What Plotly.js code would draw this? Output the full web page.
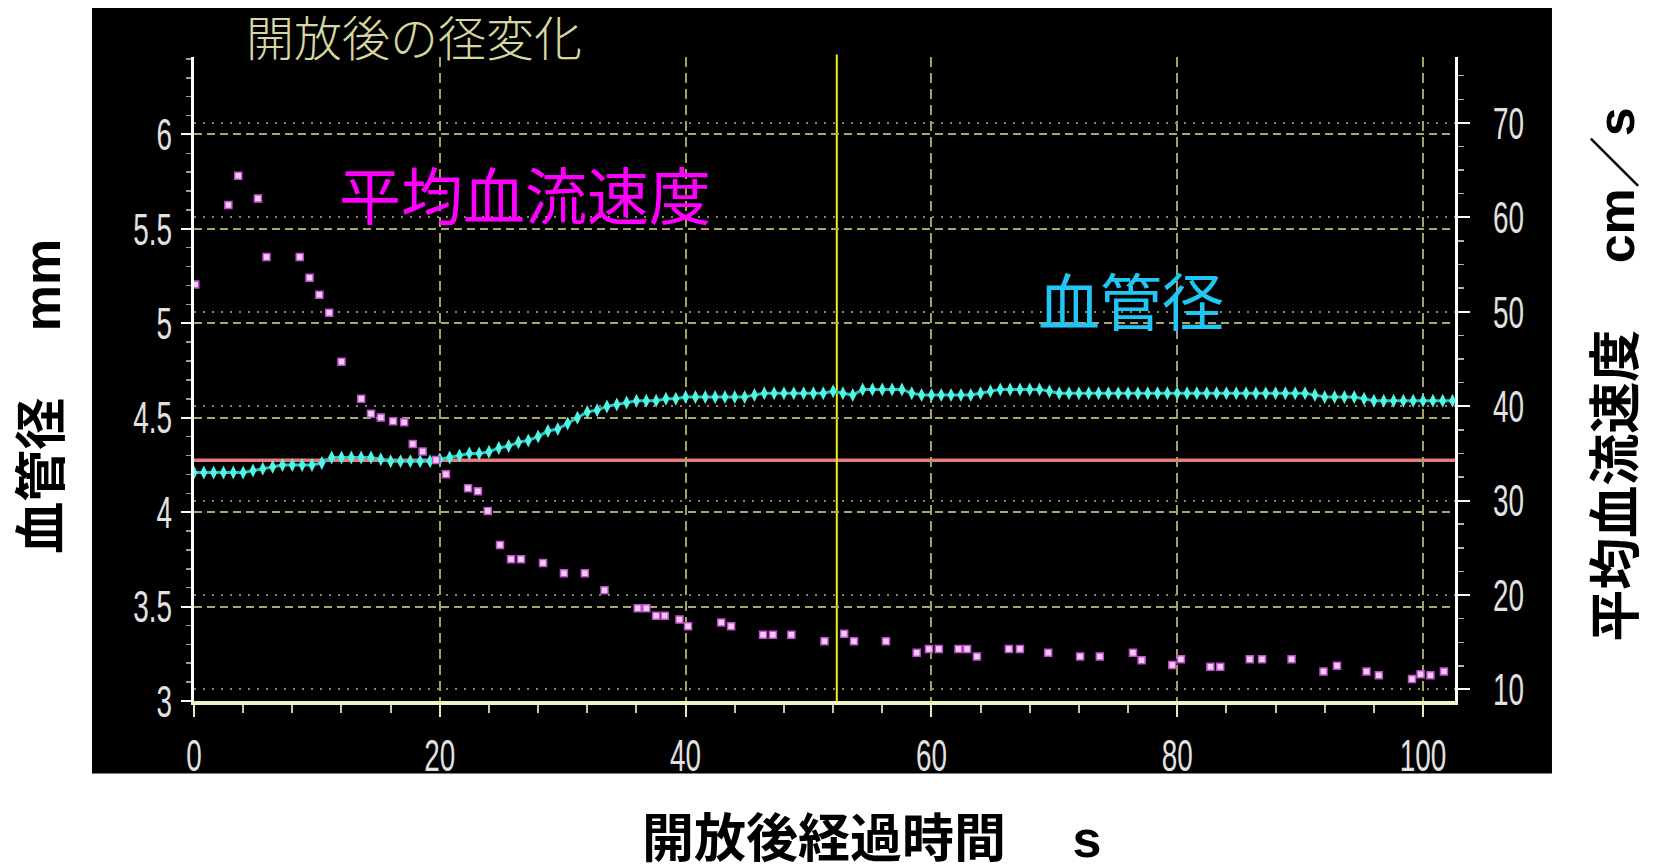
<!DOCTYPE html>
<html>
<head>
<meta charset="utf-8">
<script src="https://cdn.plot.ly/plotly-3.0.1.min.js"></script>
<style>
  html, body { margin: 0; padding: 0; background: #ffffff; }
  #chart { width: 1656px; height: 867px; }
</style>
</head>
<body>
<div id="chart"></div>
<script>
// ---- data ----
const diameterTime = [
  0, 0.8, 1.6, 2.4, 3.2, 4, 4.8, 5.6, 6.4, 7.2,
  8, 8.8, 9.6, 10.4, 11.2, 12, 12.8, 13.6, 14.4, 15.2,
  16, 16.8, 17.6, 18.4, 19.2, 20, 20.8, 21.6, 22.4, 23.2,
  24, 24.8, 25.6, 26.4, 27.2, 28, 28.8, 29.6, 30.4, 31.2,
  32, 32.8, 33.6, 34.4, 35.2, 36, 36.8, 37.6, 38.4, 39.2,
  40, 40.8, 41.6, 42.4, 43.2, 44, 44.8, 45.6, 46.4, 47.2,
  48, 48.8, 49.6, 50.4, 51.2, 52, 52.8, 53.6, 54.4, 55.2,
  56, 56.8, 57.6, 58.4, 59.2, 60, 60.8, 61.6, 62.4, 63.2,
  64, 64.8, 65.6, 66.4, 67.2, 68, 68.8, 69.6, 70.4, 71.2,
  72, 72.8, 73.6, 74.4, 75.2, 76, 76.8, 77.6, 78.4, 79.2,
  80, 80.8, 81.6, 82.4, 83.2, 84, 84.8, 85.6, 86.4, 87.2,
  88, 88.8, 89.6, 90.4, 91.2, 92, 92.8, 93.6, 94.4, 95.2,
  96, 96.8, 97.6, 98.4, 99.2, 100, 100.8, 101.6, 102.4
];
const diameterMm = [
  4.21, 4.21, 4.21, 4.21, 4.21, 4.21, 4.22, 4.23, 4.24, 4.25,
  4.25, 4.25, 4.25, 4.26, 4.29, 4.29, 4.29, 4.29, 4.29, 4.28,
  4.27, 4.27, 4.27, 4.27, 4.27, 4.28, 4.29, 4.30, 4.31, 4.31,
  4.32, 4.34, 4.35, 4.37, 4.38, 4.40, 4.43, 4.44, 4.47, 4.50,
  4.53, 4.54, 4.56, 4.57, 4.58, 4.59, 4.59, 4.59, 4.60, 4.60,
  4.61, 4.61, 4.61, 4.61, 4.61, 4.61, 4.61, 4.62, 4.63, 4.63,
  4.63, 4.63, 4.63, 4.63, 4.63, 4.64, 4.63, 4.62, 4.65, 4.65,
  4.65, 4.65, 4.65, 4.63, 4.62, 4.62, 4.62, 4.62, 4.62, 4.62,
  4.63, 4.64, 4.65, 4.65, 4.65, 4.65, 4.65, 4.64, 4.63, 4.63,
  4.63, 4.63, 4.63, 4.63, 4.63, 4.63, 4.63, 4.63, 4.63, 4.63,
  4.63, 4.63, 4.63, 4.63, 4.63, 4.63, 4.63, 4.63, 4.63, 4.63,
  4.63, 4.63, 4.63, 4.63, 4.62, 4.61, 4.61, 4.61, 4.61, 4.60,
  4.59, 4.59, 4.59, 4.59, 4.59, 4.59, 4.59, 4.59, 4.59
];
const velocityTime = [
  0.1, 2.8, 3.6, 5.2, 5.9, 8.6, 9.4, 10.2, 11.0, 12.0,
  13.6, 14.4, 15.2, 16.2, 17.1, 17.8, 18.6, 19.7, 20.5, 22.3,
  23.1, 23.9, 24.9, 25.8, 26.6, 28.4, 30.1, 31.8, 33.4, 36.1,
  36.8, 37.6, 38.3, 39.5, 40.2, 42.9, 43.7, 46.3, 47.1, 48.6,
  51.3, 52.9, 53.7, 56.3, 58.8, 59.8, 60.6, 62.2, 62.9, 63.7,
  66.3, 67.2, 69.5, 72.1, 73.7, 76.4, 77.1, 79.6, 80.3, 82.7,
  83.5, 85.9, 86.9, 89.3, 91.9, 93.0, 95.4, 96.4, 99.1, 99.8,
  100.6, 101.7
];
const velocityCms = [
  52.9, 61.3, 64.4, 62.0, 55.8, 55.8, 53.6, 51.8, 49.9, 44.7,
  40.8, 39.2, 38.8, 38.4, 38.3, 36.0, 35.2, 34.3, 32.8, 31.3,
  31.0, 28.9, 25.3, 23.8, 23.8, 23.4, 22.3, 22.3, 20.5, 18.6,
  18.6, 17.8, 17.8, 17.4, 16.7, 17.1, 16.7, 15.8, 15.8, 15.8,
  15.1, 15.9, 15.1, 15.1, 13.9, 14.3, 14.3, 14.3, 14.3, 13.5,
  14.3, 14.3, 13.9, 13.5, 13.5, 13.9, 13.1, 12.6, 13.2, 12.4,
  12.4, 13.2, 13.2, 13.2, 11.9, 12.5, 11.9, 11.5, 11.1, 11.6,
  11.5, 11.9
];
const baselineDiameter = 4.275;   // horizontal reference line (mm)
const markerTime = 52.3;          // vertical cursor line (s)

const xTickVals = [0, 20, 40, 60, 80, 100];
const xTickText = ['0', '20', '40', '60', '80', '100'];
const leftTickVals = [3, 3.5, 4, 4.5, 5, 5.5, 6];
const leftTickText = ['3', '3.5', '4', '4.5', '5', '5.5', '6'];
const rightTickVals = [10, 20, 30, 40, 50, 60, 70];
const rightTickText = ['10', '20', '30', '40', '50', '60', '70'];

const chartTitle = '開放後の径変化';
const xTitle = '開放後経過時間\u3000\u00a0s';
const yTitle = '血管径\u3000\u00a0mm';
const y2Title = '平均血流速度\u3000\u00a0cm／s';
const velocityLabel = '平均血流速度';
const diameterLabel = '血管径';

// ---- styling ----
const tickFont = { family: 'Liberation Sans, Arial, sans-serif', size: 45, color: '#e2e2e2' };
const boldTitleFont = { family: 'Liberation Sans, Noto Sans CJK JP, sans-serif', size: 52, color: '#000000', weight: 700 };

const traces = [
  {
    x: diameterTime, y: diameterMm, yaxis: 'y', type: 'scatter', mode: 'lines+markers',
    line: { color: '#20c4b8', width: 3 },
    marker: { symbol: 'diamond-tall', size: 10, color: '#52f4e4' },
    hoverinfo: 'skip', name: diameterLabel
  },
  {
    x: velocityTime, y: velocityCms, yaxis: 'y2', type: 'scatter', mode: 'markers',
    marker: { symbol: 'square', size: 7, color: '#f6ccf6', line: { color: '#c050d0', width: 1.5 } },
    hoverinfo: 'skip', name: velocityLabel
  }
];

const layout = {
  width: 1656, height: 867,
  margin: { l: 194, r: 201, t: 57, b: 165.5, pad: 0 },
  paper_bgcolor: '#ffffff',
  plot_bgcolor: '#000000',
  showlegend: false,
  title: {
    text: chartTitle,
    font: { family: 'Noto Sans CJK JP, sans-serif', size: 48, color: '#d6d6a0', weight: 300 },
    xref: 'paper', x: 0.1745, xanchor: 'center',
    yref: 'container', y: 0.955, yanchor: 'middle'
  },
  xaxis: {
    range: [0, 102.6],
    tickmode: 'array', tickvals: xTickVals, ticktext: xTickText,
    ticks: 'outside', ticklen: 12, tickwidth: 2, tickcolor: '#e8e8c8',
    showline: true, linecolor: '#f2f2c4', linewidth: 4,
    showgrid: true, gridcolor: '#a2a262', gridwidth: 2, griddash: '10px,6px',
    zeroline: false, tickfont: tickFont, ticklabelstandoff: 0,
    minor: { tick0: 0, dtick: 4, ticks: 'outside', ticklen: 8, tickwidth: 2, tickcolor: '#c8c8b0', showgrid: false },
    fixedrange: true
  },
  yaxis: {
    range: [3, 6.41],
    tickmode: 'array', tickvals: leftTickVals, ticktext: leftTickText,
    ticks: 'outside', ticklen: 10, tickwidth: 2, tickcolor: '#ffffff',
    showline: true, linecolor: '#ffffff', linewidth: 3,
    showgrid: true, gridcolor: '#a8a86c', gridwidth: 2, griddash: '8px,5px',
    zeroline: false, tickfont: tickFont, ticklabelstandoff: 0,
    minor: { tick0: 3, dtick: 0.1, ticks: 'outside', ticklen: 5, tickwidth: 1.5, tickcolor: '#9a9aaa', showgrid: false },
    fixedrange: true
  },
  yaxis2: {
    overlaying: 'y', side: 'right',
    range: [8.78, 76.98],
    tickmode: 'array', tickvals: rightTickVals, ticktext: rightTickText,
    ticks: 'outside', ticklen: 12, tickwidth: 2, tickcolor: '#ffffff',
    showline: true, linecolor: '#ffffff', linewidth: 3,
    showgrid: true, gridcolor: '#86866a', gridwidth: 2, griddash: '2px,7px',
    zeroline: false, tickfont: tickFont, ticklabelstandoff: 14,
    minor: { tick0: 10, dtick: 2.5, ticks: 'outside', ticklen: 6, tickwidth: 1.5, tickcolor: '#b0b0b0', showgrid: false },
    fixedrange: true
  },
  shapes: [
    { type: 'rect', xref: 'paper', yref: 'paper', x0: -0.0809, x1: 1.0769, y0: -0.1125, y1: 1.076,
      fillcolor: '#000000', line: { width: 0 }, layer: 'below' },
    { type: 'line', xref: 'paper', yref: 'y', x0: 0, x1: 1, y0: baselineDiameter, y1: baselineDiameter,
      line: { color: '#e47c7a', width: 3.5 }, layer: 'between' },
    { type: 'line', xref: 'x', yref: 'paper', x0: markerTime, x1: markerTime, y0: 0, y1: 1.004,
      line: { color: '#f0f020', width: 2 }, layer: 'between' }
  ],
  annotations: [
    { text: velocityLabel, xref: 'x', yref: 'y', x: 26.9, y: 5.69, showarrow: false,
      font: { family: 'Noto Sans CJK JP, sans-serif', size: 62, color: '#ff00ff' } },
    { text: diameterLabel, xref: 'x', yref: 'y', x: 76.2, y: 5.13, showarrow: false,
      font: { family: 'Noto Sans CJK JP, sans-serif', size: 62, color: '#22c6f4' } },
    { text: yTitle, xref: 'paper', yref: 'paper', x: -0.1205, y: 0.4725, textangle: -90,
      showarrow: false, xanchor: 'center', yanchor: 'middle', font: boldTitleFont },
    { text: y2Title, xref: 'paper', yref: 'paper', x: 1.1277, y: 0.5066, textangle: -90,
      showarrow: false, xanchor: 'center', yanchor: 'middle', font: boldTitleFont },
    { text: xTitle, xref: 'paper', yref: 'paper', x: 0.537, y: -0.215,
      showarrow: false, xanchor: 'center', yanchor: 'middle', font: boldTitleFont }
  ]
};

// The reference uses a tall, condensed digit face; squeeze the tick labels horizontally.
function condenseTickLabels() {
  document.querySelectorAll('#chart .xtick text, #chart .ytick text, #chart .y2tick text').forEach(function (t) {
    const w = t.getComputedTextLength();
    if (w > 0) {
      t.setAttribute('textLength', (w * 0.62).toFixed(1));
      t.setAttribute('lengthAdjust', 'spacingAndGlyphs');
    }
  });
}

Plotly.newPlot('chart', traces, layout, { displayModeBar: false, staticPlot: true }).then(condenseTickLabels);
</script>
</body>
</html>
